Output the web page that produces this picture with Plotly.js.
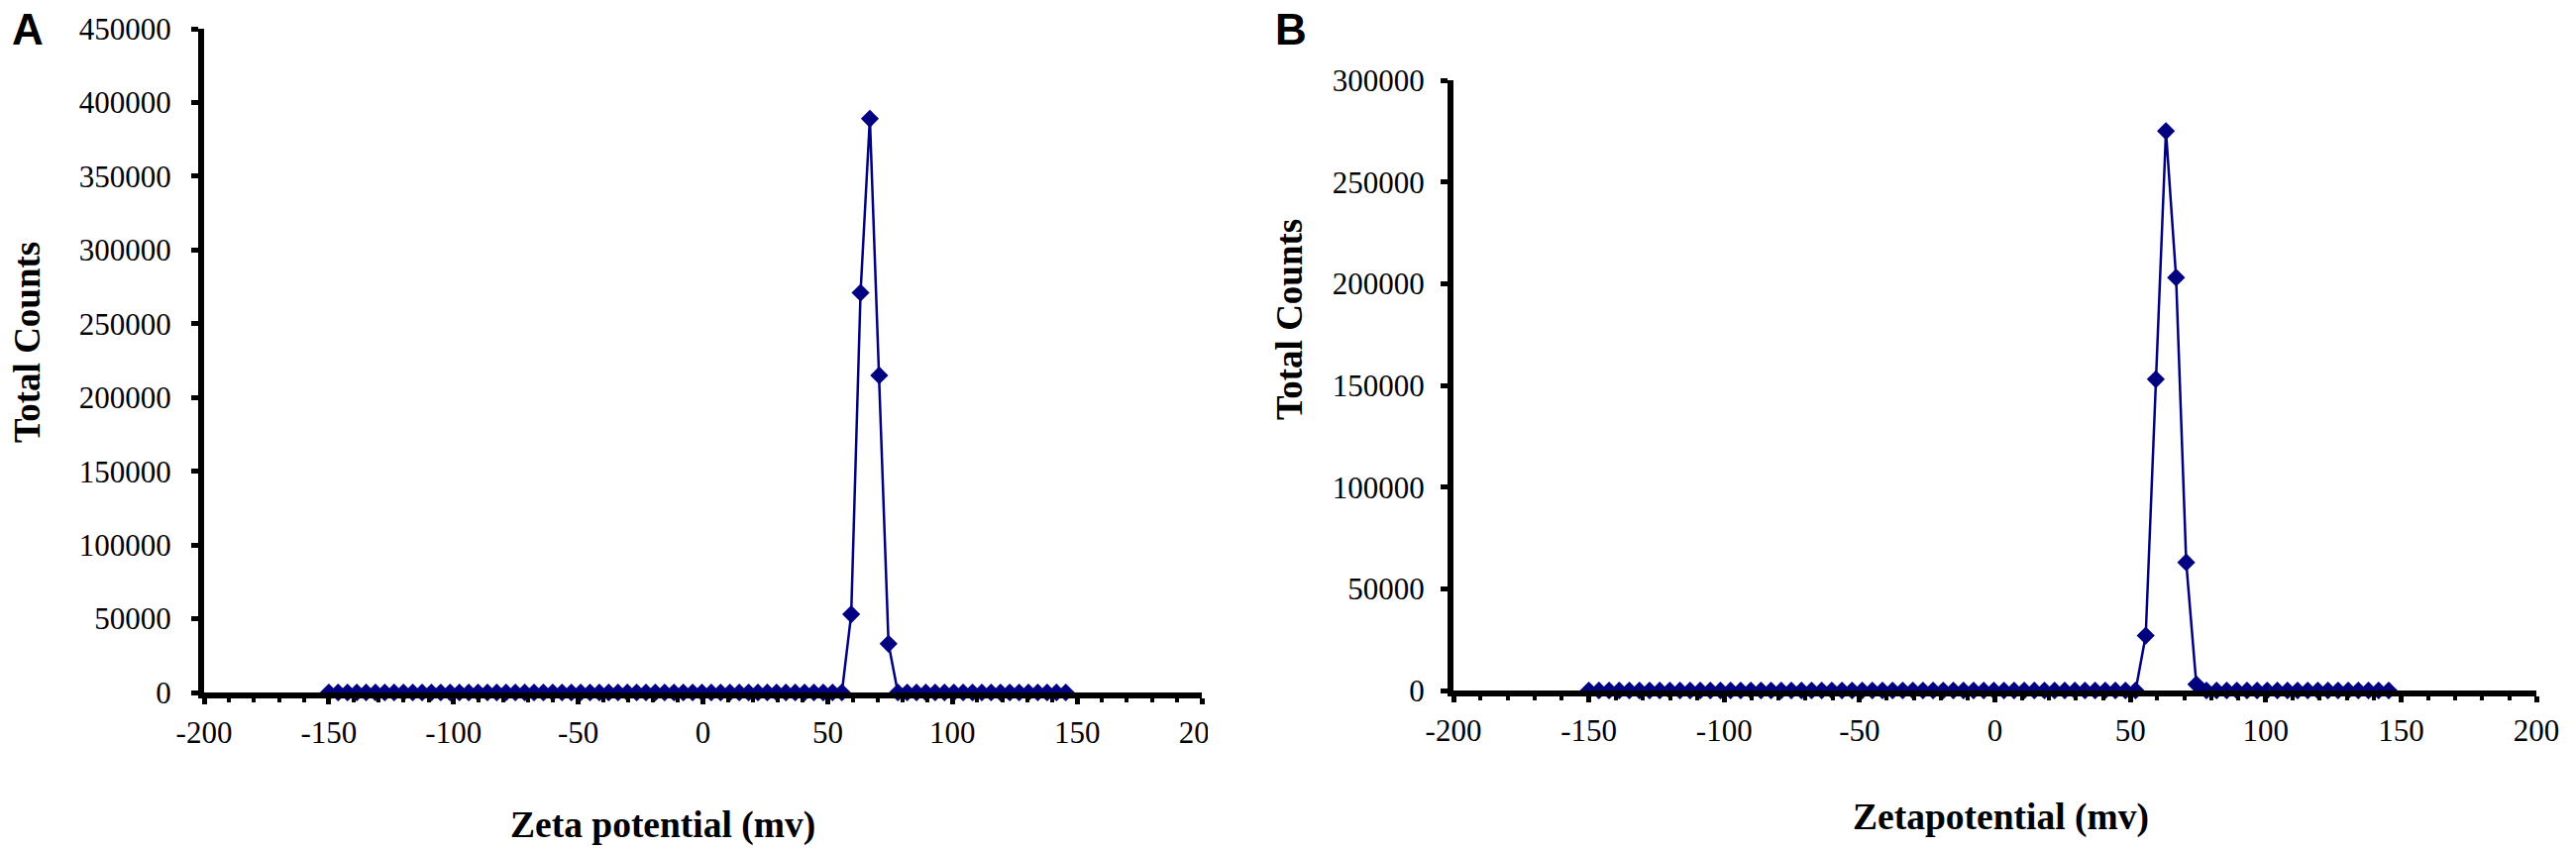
<!DOCTYPE html>
<html>
<head>
<meta charset="utf-8">
<script src="https://cdn.plot.ly/plotly-3.0.1.min.js"></script>
<style>
  html, body { margin: 0; padding: 0; background: white; }
  #chart { width: 2600px; height: 857px; }
</style>
</head>
<body>
<div id="chart"></div>
<script>
// zeta potential bins (mV), shared by both panels
const zetaMv = [
  -150, -146.26, -142.52, -138.78, -135.04, -131.3, -127.56, -123.82, -120.08, -116.34,
  -112.6, -108.86, -105.12, -101.38, -97.64, -93.9, -90.16, -86.42, -82.68, -78.94,
  -75.2, -71.46, -67.72, -63.98, -60.24, -56.5, -52.76, -49.02, -45.28, -41.54,
  -37.8, -34.06, -30.32, -26.58, -22.84, -19.1, -15.36, -11.62, -7.88, -4.14,
  -0.4, 3.34, 7.08, 10.82, 14.56, 18.3, 22.04, 25.78, 29.52, 33.26,
  37, 40.74, 44.48, 48.22, 51.96, 55.7, 59.44, 63.18, 66.92, 70.66,
  74.4, 78.14, 81.88, 85.62, 89.36, 93.1, 96.84, 100.58, 104.32, 108.06,
  111.8, 115.54, 119.28, 123.02, 126.76, 130.5, 134.24, 137.98, 141.72, 145.46
];

// panel A total counts
const countsA = [
  0, 0, 0, 0, 0, 0, 0, 0, 0, 0,
  0, 0, 0, 0, 0, 0, 0, 0, 0, 0,
  0, 0, 0, 0, 0, 0, 0, 0, 0, 0,
  0, 0, 0, 0, 0, 0, 0, 0, 0, 0,
  0, 0, 0, 0, 0, 0, 0, 0, 0, 0,
  0, 0, 0, 0, 0, 0, 53000, 271000, 389000, 215000,
  33000, 0, 0, 0, 0, 0, 0, 0, 0, 0,
  0, 0, 0, 0, 0, 0, 0, 0, 0, 0
];

// panel B total counts
const countsB = [
  0, 0, 0, 0, 0, 0, 0, 0, 0, 0,
  0, 0, 0, 0, 0, 0, 0, 0, 0, 0,
  0, 0, 0, 0, 0, 0, 0, 0, 0, 0,
  0, 0, 0, 0, 0, 0, 0, 0, 0, 0,
  0, 0, 0, 0, 0, 0, 0, 0, 0, 0,
  0, 0, 0, 0, 0, 27000, 153000, 275000, 203000, 63000,
  3000, 0, 0, 0, 0, 0, 0, 0, 0, 0,
  0, 0, 0, 0, 0, 0, 0, 0, 0, 0
];

const xTickVals = [-200, -150, -100, -50, 0, 50, 100, 150, 200];
const xTickText = ['-200', '-150', '-100', '-50', '0', '50', '100', '150', '200'];

const serif = 'Liberation Serif, Times New Roman, serif';
const navy = '#000080';

function series(x, y, xa, ya) {
  return {
    x: x, y: y, xaxis: xa, yaxis: ya,
    type: 'scatter', mode: 'lines+markers',
    line: { color: navy, width: 2.5 },
    marker: { symbol: 'diamond', size: 14, color: navy },
    cliponaxis: false,
    hoverinfo: 'x+y'
  };
}

const data = [
  series(zetaMv, countsA, 'x', 'y'),
  series(zetaMv, countsB, 'x2', 'y2')
];

function xAxis(domain, anchor) {
  return {
    domain: domain, anchor: anchor,
    range: [-200, 200],
    tickmode: 'array', tickvals: xTickVals, ticktext: xTickText,
    showline: true, linecolor: 'black', linewidth: 6,
    ticks: 'outside', ticklen: 6, tickwidth: 5, tickcolor: 'black',
    minor: { dtick: 10, tick0: 0, ticks: 'outside', ticklen: 4, tickwidth: 4, tickcolor: 'black' },
    showgrid: false, zeroline: false,
    tickfont: { family: serif, size: 31, color: 'black' },
    ticklabelstandoff: 2
  };
}

function yAxis(domain, anchor, top, standoff) {
  return {
    domain: domain, anchor: anchor,
    range: [0, top], dtick: 50000, tickformat: 'd',
    showline: true, linecolor: 'black', linewidth: 6,
    ticks: 'outside', ticklen: 7, tickwidth: 5, tickcolor: 'black',
    showgrid: false, zeroline: false,
    tickfont: { family: serif, size: 31, color: 'black' },
    ticklabelstandoff: standoff
  };
}

function label(text, x, y, size, opts) {
  return Object.assign({
    text: text, xref: 'paper', yref: 'paper',
    x: x / 2600, y: 1 - y / 857,
    xanchor: 'center', yanchor: 'middle', showarrow: false,
    font: { family: serif, size: size, color: 'black', weight: 'bold' }
  }, opts || {});
}

const sans = { family: 'Liberation Sans, Arial, sans-serif', size: 44, color: 'black', weight: 'bold' };

const layout = {
  width: 2600, height: 857,
  margin: { l: 0, r: 0, t: 0, b: 0 },
  paper_bgcolor: 'white', plot_bgcolor: 'white',
  showlegend: false,
  xaxis: xAxis([206 / 2600, 1213 / 2600], 'y'),
  yaxis: yAxis([1 - 699 / 857, 1 - 29 / 857], 'x', 450000, 14),
  xaxis2: xAxis([1467 / 2600, 2560 / 2600], 'y2'),
  yaxis2: yAxis([1 - 697 / 857, 1 - 81 / 857], 'x2', 300000, 10),
  annotations: [
    label('A', 28, 29, 44, { font: sans }),
    label('B', 1303, 29, 44, { font: sans }),
    label('Total Counts', 28, 346, 37, { textangle: -90 }),
    label('Total Counts', 1301, 323, 37, { textangle: -90 }),
    label('Zeta potential (mv)', 669, 833, 37.5),
    label('Zetapotential (mv)', 2019, 825, 37.5)
  ],
  // panel A was cropped through its last tick label
  shapes: [{
    type: 'rect', xref: 'paper', yref: 'paper', layer: 'above',
    x0: 1219 / 2600, x1: 1300 / 2600, y0: 1 - 765 / 857, y1: 1 - 712 / 857,
    fillcolor: 'white', line: { width: 0 }
  }]
};

Plotly.newPlot('chart', data, layout, { staticPlot: true });
</script>
</body>
</html>
